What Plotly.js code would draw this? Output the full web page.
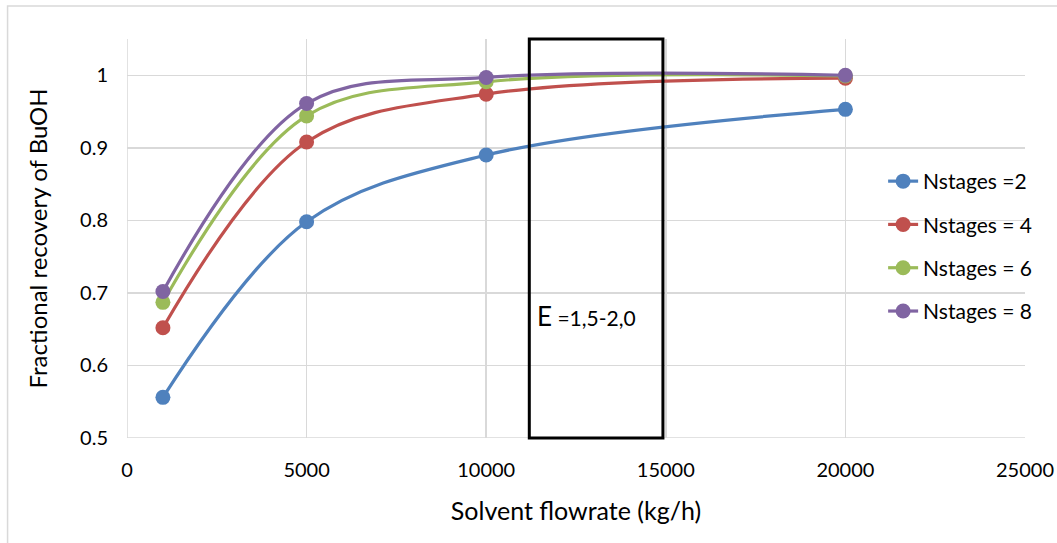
<!DOCTYPE html>
<html>
<head>
<meta charset="utf-8">
<script src="https://cdn.plot.ly/plotly-3.0.1.min.js"></script>
<style>html,body{margin:0;padding:0;background:#fff;}#chart{width:1057px;height:543px;}</style>
</head>
<body>
<div id="chart"></div>
<script>
const flowrate = [1000, 5000, 10000, 20000];
const seriesNames = ["Nstages =2", "Nstages = 4", "Nstages = 6", "Nstages = 8"];
const recovery2 = [0.556, 0.798, 0.890, 0.953];
const recovery4 = [0.652, 0.908, 0.974, 0.996];
const recovery6 = [0.687, 0.944, 0.991, 0.999];
const recovery8 = [0.702, 0.961, 0.997, 1.000];
const colors = ["#4f81bd", "#c0504d", "#9bbb59", "#8064a2"];
const xTicks = [0, 5000, 10000, 15000, 20000, 25000];
const yTicks = [0.5, 0.6, 0.7, 0.8, 0.9, 1];
const boxRange = [11200, 14920];
const boxLabel = "E =1,5-2,0";

const font = "Lato, 'Open Sans', sans-serif";
const allY = [recovery2, recovery4, recovery6, recovery8];
const traces = allY.map((y, i) => ({
  x: flowrate, y: y, name: seriesNames[i], type: "scatter", mode: "lines+markers",
  line: {color: colors[i], width: 3.2, shape: "spline", smoothing: 1},
  marker: {color: colors[i], size: 15},
  legendgroup: "g" + i
}));

const layout = {
  width: 1057, height: 543,
  margin: {l: 127, r: 32, t: 39, b: 105},
  paper_bgcolor: "#fff", plot_bgcolor: "#fff",
  font: {family: font, size: 20, color: "#000"},
  showlegend: true,
  legend: {x: 0.842, xanchor: "left", y: 0.48, yanchor: "middle", bgcolor: "rgba(255,255,255,0)",
           font: {size: 21, family: font}, tracegroupgap: 13, itemwidth: 30},
  xaxis: {range: [0, 25000], tickvals: xTicks, ticktext: xTicks.map(String), showgrid: true,
          gridcolor: "#d9d9d9", gridwidth: 1.5, zeroline: false, showline: false,
          ticks: "outside", ticklen: 14, tickcolor: "rgba(0,0,0,0)", tickfont: {size: 20},
          title: {text: "Solvent flowrate (kg/h)", font: {size: 25}, standoff: 22}},
  yaxis: {range: [0.5, 1.05], tickvals: yTicks, ticktext: yTicks.map(String), showgrid: true,
          gridcolor: "#d9d9d9", gridwidth: 1.5, zeroline: false, showline: false,
          ticks: "outside", ticklen: 14, tickcolor: "rgba(0,0,0,0)", tickfont: {size: 20},
          title: {text: "Fractional recovery of BuOH", font: {size: 24}, standoff: 25}},
  shapes: [
    {type: "line", xref: "x", yref: "paper", x0: 0, x1: 0, y0: 0, y1: 1, line: {color: "#d9d9d9", width: 1.5}},
    {type: "line", xref: "paper", yref: "y", x0: 0, x1: 1, y0: 0.5, y1: 0.5, line: {color: "#d9d9d9", width: 1.5}},
    {type: "rect", xref: "x", yref: "paper", x0: boxRange[0], x1: boxRange[1], y0: 0, y1: 1,
     line: {color: "#000", width: 3}, fillcolor: "rgba(0,0,0,0)"},
    {type: "rect", xref: "paper", yref: "paper", x0: -0.133, x1: 1.2, y0: -0.4, y1: 1.083,
     line: {color: "#d9d9d9", width: 1.5}, fillcolor: "rgba(0,0,0,0)", layer: "below"}
  ],
  annotations: [
    {xref: "x", yref: "y", x: boxRange[0] + 170, y: 0.668, xanchor: "left", yanchor: "middle",
     text: "<span style='font-size:26px'>E</span> =1,5-2,0", showarrow: false,
     font: {size: 21, family: font, color: "#000"}}
  ]
};

Plotly.newPlot("chart", traces, layout, {displayModeBar: false, staticPlot: true});
</script>
</body>
</html>
